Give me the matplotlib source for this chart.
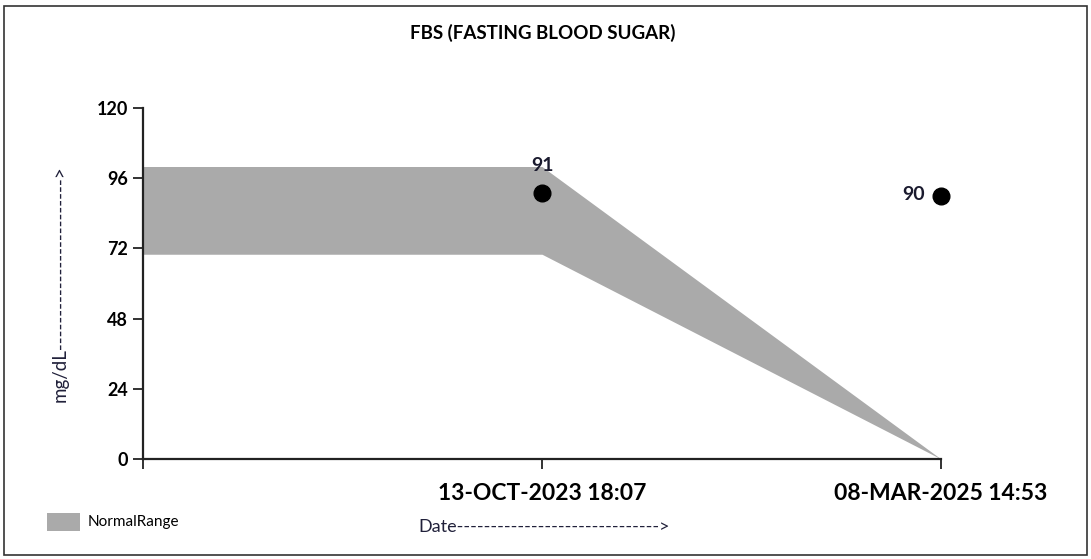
import numpy as np
import matplotlib
matplotlib.use('Agg')
import matplotlib.pyplot as plt
from matplotlib.patches import Rectangle

plt.rcParams['font.family'] = ['Lato', 'DejaVu Sans']

# data
dates = ['13-OCT-2023 18:07', '08-MAR-2025 14:53']
fbs = [91, 90]
range_x = [0, 1, 2]
range_low = [70, 70, 0]
range_high = [100, 100, 0]
yticks = [0, 24, 48, 72, 96, 120]

fig = plt.figure(figsize=(10.91, 5.59), dpi=100)
ax = fig.add_axes([143/1091, 1-459/559, (941-143)/1091, (459-108)/559])

ax.fill_between(range_x, range_low, range_high, color='#aaaaaa', linewidth=0, zorder=1)
xpos = np.arange(1, len(dates)+1)
ax.plot(xpos, fbs, 'o', color='black', markersize=12, linestyle='none', zorder=3, clip_on=False)

# value labels
ax.annotate(str(fbs[0]), (xpos[0], fbs[0]), xytext=(0, 20), textcoords='offset points',
            ha='center', va='center', fontsize=14, fontweight='bold', color='#1a1a2e')
ax.annotate(str(fbs[1]), (xpos[1], fbs[1]), xytext=(-20, 1), textcoords='offset points',
            ha='center', va='center', fontsize=14, fontweight='bold', color='#1a1a2e')

ax.set_xlim(0, 2)
ax.set_ylim(0, 120)
ax.set_yticks(yticks)
ax.set_yticklabels([str(v) for v in yticks], fontsize=13, fontweight='bold')
ax.set_xticks([0] + list(xpos))
ax.set_xticklabels([''] + dates, fontsize=16.5, fontweight='bold')
ax.tick_params(axis='both', length=7, width=1.3, color='#222222', pad=4)
ax.tick_params(axis='x', pad=10)
for s in ['top', 'right']:
    ax.spines[s].set_visible(False)
for s in ['left', 'bottom']:
    ax.spines[s].set_linewidth(1.6)
    ax.spines[s].set_color('#222222')

fig.text(543/1091, 1-33/559, 'FBS (FASTING BLOOD SUGAR)', ha='center', va='center',
         fontsize=13.5, fontweight='bold')
fig.text(60/1091, 1-284/559, 'mg/dL' + '-'*25 + '>', rotation=90, ha='center', va='center',
         fontsize=13.5, color='#20203a')
fig.text(418/1091, 1-527/559, 'Date' + '-'*30 + '>', ha='left', va='center',
         fontsize=13, color='#20203a')

# legend
fig.patches.append(Rectangle((47/1091, 1-531/559), 33/1091, 18/559, transform=fig.transFigure,
                             color='#aaaaaa', linewidth=0))
fig.text(88/1091, 1-522/559, 'NormalRange', ha='left', va='center', fontsize=11)

# border
fig.patches.append(Rectangle((4/1091, 4/559), 1083/1091, 549/559, transform=fig.transFigure,
                             fill=False, edgecolor='#333333', linewidth=1.2))

fig.savefig('out.png', dpi=100)
